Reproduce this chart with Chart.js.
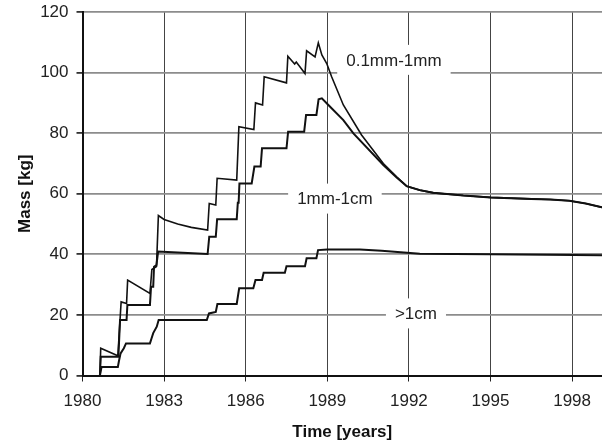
<!DOCTYPE html>
<html>
<head>
<meta charset="utf-8">
<script src="https://cdn.jsdelivr.net/npm/chart.js@4"></script>
<style>
  html, body { margin: 0; padding: 0; background: #fff; }
  #wrap { width: 602px; height: 445px; position: relative; }
</style>
</head>
<body>
<div id="wrap"><canvas id="chart"></canvas></div>
<script>
// Mass of particles by size class over time
const fineYears = [1980.64, 1980.67, 1981.30, 1981.42, 1981.62, 1981.66, 1982.48, 1982.55, 1982.72, 1982.79,
    1983.0, 1983.5, 1984.0, 1984.6, 1984.66, 1984.9, 1984.95, 1985.67, 1985.75, 1986.3, 1986.36, 1986.62,
    1986.68, 1987.5, 1987.55, 1987.8, 1987.86, 1988.18, 1988.24, 1988.55, 1988.67, 1988.8, 1988.98, 1989.16,
    1989.59, 1990.26, 1991.06, 1991.55, 1991.92, 1992.4, 1992.9, 1994.0, 1995.0, 1996.5, 1997.2, 1997.9,
    1998.5, 1999.1];
const fineMass = [0, 9.0, 6.5, 24.3, 23.8, 31.5, 27.1, 35.0, 36.0, 52.8,
    51.5, 50.0, 48.9, 48.0, 56.8, 56.3, 65.1, 64.5, 82.1, 81.2, 90.0, 89.3,
    98.6, 96.6, 105.4, 102.8, 103.5, 99.7, 107.2, 105.2, 109.8, 105.8, 103.0, 98.6,
    89.3, 79.4, 70.0, 65.6, 62.5, 61.2, 60.3, 59.4, 58.8, 58.3, 58.1, 57.7,
    56.8, 55.5];

const mediumYears = [1980.64, 1980.67, 1981.32, 1981.38, 1981.62, 1981.65, 1982.48, 1982.52, 1982.6, 1982.63,
    1982.72, 1982.78, 1983.5, 1984.6, 1984.66, 1984.9, 1984.95, 1985.67, 1985.71, 1985.74, 1985.77, 1986.22,
    1986.32, 1986.55, 1986.6, 1987.5, 1987.56, 1988.15, 1988.22, 1988.6, 1988.68, 1988.8, 1989.04, 1989.59,
    1989.96, 1991.06, 1991.55, 1991.92, 1992.4, 1992.9, 1994.0, 1995.0, 1996.5, 1997.2, 1997.9, 1998.5,
    1999.1];
const mediumMass = [0, 6.2, 6.2, 18.3, 18.3, 23.3, 23.3, 29.3, 29.3, 35.9,
    36.5, 40.9, 40.6, 40.1, 45.8, 45.8, 51.6, 51.6, 57.0, 57.0, 63.4, 63.4,
    69.0, 69.0, 75.0, 75.0, 80.5, 80.5, 86.0, 86.0, 91.2, 91.5, 89.3, 84.3,
    79.9, 69.5, 65.4, 62.5, 61.2, 60.3, 59.4, 58.8, 58.3, 58.1, 57.7, 56.8,
    55.5];

const coarseYears = [1980.64, 1980.70, 1981.30, 1981.34, 1981.40, 1981.52, 1981.60, 1982.48, 1982.54, 1982.60,
    1982.73, 1982.80, 1984.57, 1984.65, 1984.90, 1984.96, 1985.67, 1985.76, 1986.28, 1986.36, 1986.60, 1986.66,
    1987.44, 1987.50, 1988.18, 1988.24, 1988.60, 1988.66, 1989.0, 1990.2, 1991.0, 1992.4, 1995.0, 1999.1];
const coarseMass = [0, 2.8, 2.8, 4.8, 7.3, 9.0, 10.6, 10.6, 12.3, 14.0,
    16.1, 18.3, 18.3, 20.5, 21.0, 23.6, 23.6, 28.8, 28.8, 31.5, 31.5, 33.9,
    33.9, 36.1, 36.1, 38.7, 38.7, 41.4, 41.6, 41.6, 41.2, 40.2, 40.0, 39.7];

const xTicks = [1980, 1983, 1986, 1989, 1992, 1995, 1998];
const yTicks = [0, 20, 40, 60, 80, 100, 120];

// curve labels: text, year, mass
const labelTexts = ['0.1mm-1mm', '1mm-1cm', '>1cm'];
const labelYears = [1991.45, 1989.28, 1992.26];
const labelMass = [104.2, 58.4, 20.5];

const FONT = '"Liberation Sans", Arial, Helvetica, sans-serif';

function points(xs, ys) {
    return xs.map((x, i) => ({ x: x, y: ys[i] }));
}

const curveLabels = {
    id: 'curveLabels',
    beforeDatasetsDraw(chart) {
        const ctx = chart.ctx;
        const sx = chart.scales.x, sy = chart.scales.y;
        ctx.save();
        ctx.font = '17px ' + FONT;
        ctx.textAlign = 'center';
        ctx.textBaseline = 'middle';
        labelTexts.forEach((t, i) => {
            const px = sx.getPixelForValue(labelYears[i]);
            const py = sy.getPixelForValue(labelMass[i]);
            const w = ctx.measureText(t).width + 18;
            ctx.fillStyle = '#fff';
            ctx.fillRect(px - w / 2, py - 15, w, 30);
            ctx.fillStyle = '#222';
            ctx.fillText(t, px, py + 1);
        });
        ctx.restore();
    }
};

const lineStyle = (w) => ({
    borderColor: '#111',
    borderWidth: w,
    pointRadius: 0,
    tension: 0,
    fill: false
});

new Chart(document.getElementById('chart').getContext('2d'), {
    type: 'line',
    data: {
        datasets: [
            Object.assign({ label: '0.1mm-1mm', data: points(fineYears, fineMass) }, lineStyle(1.6)),
            Object.assign({ label: '1mm-1cm', data: points(mediumYears, mediumMass) }, lineStyle(2)),
            Object.assign({ label: '>1cm', data: points(coarseYears, coarseMass) }, lineStyle(2))
        ]
    },
    plugins: [curveLabels],
    options: {
        responsive: true,
        maintainAspectRatio: false,
        animation: false,
        layout: { padding: { top: 12, left: 0, right: 0, bottom: 0 } },
        plugins: {
            legend: { display: false },
            tooltip: { enabled: false }
        },
        scales: {
            x: {
                type: 'linear',
                min: 1980,
                max: 1999.1,
                afterBuildTicks: (s) => { s.ticks = xTicks.map(v => ({ value: v })); },
                afterFit: (s) => { s.height = 69.5; s.paddingLeft = 0; s.paddingRight = 0; },
                ticks: {
                    color: '#222',
                    font: { family: FONT, size: 17 },
                    padding: 10,
                    maxRotation: 0,
                    callback: (v) => String(v)
                },
                grid: { color: '#444', lineWidth: 1, tickLength: 6, tickColor: '#222' },
                border: { color: '#111', width: 2 },
                title: {
                    display: true,
                    text: 'Time [years]',
                    color: '#111',
                    font: { family: FONT, size: 17, weight: 'bold' },
                    padding: { top: 0, bottom: 2 }
                }
            },
            y: {
                min: 0,
                max: 120,
                afterBuildTicks: (s) => { s.ticks = yTicks.map(v => ({ value: v })); },
                afterFit: (s) => { s.width = 82.5; s.paddingTop = 0; s.paddingBottom = 0; },
                ticks: {
                    color: '#222',
                    font: { family: FONT, size: 17 },
                    padding: 8,
                    callback: (v) => String(v)
                },
                grid: { color: '#8c8c8c', lineWidth: 1.8, tickLength: 6, tickColor: '#333' },
                border: { color: '#111', width: 2 },
                title: {
                    display: true,
                    text: 'Mass [kg]',
                    color: '#111',
                    font: { family: FONT, size: 17, weight: 'bold' },
                    padding: { top: 15, bottom: 0 }
                }
            }
        }
    }
});
</script>
</body>
</html>
